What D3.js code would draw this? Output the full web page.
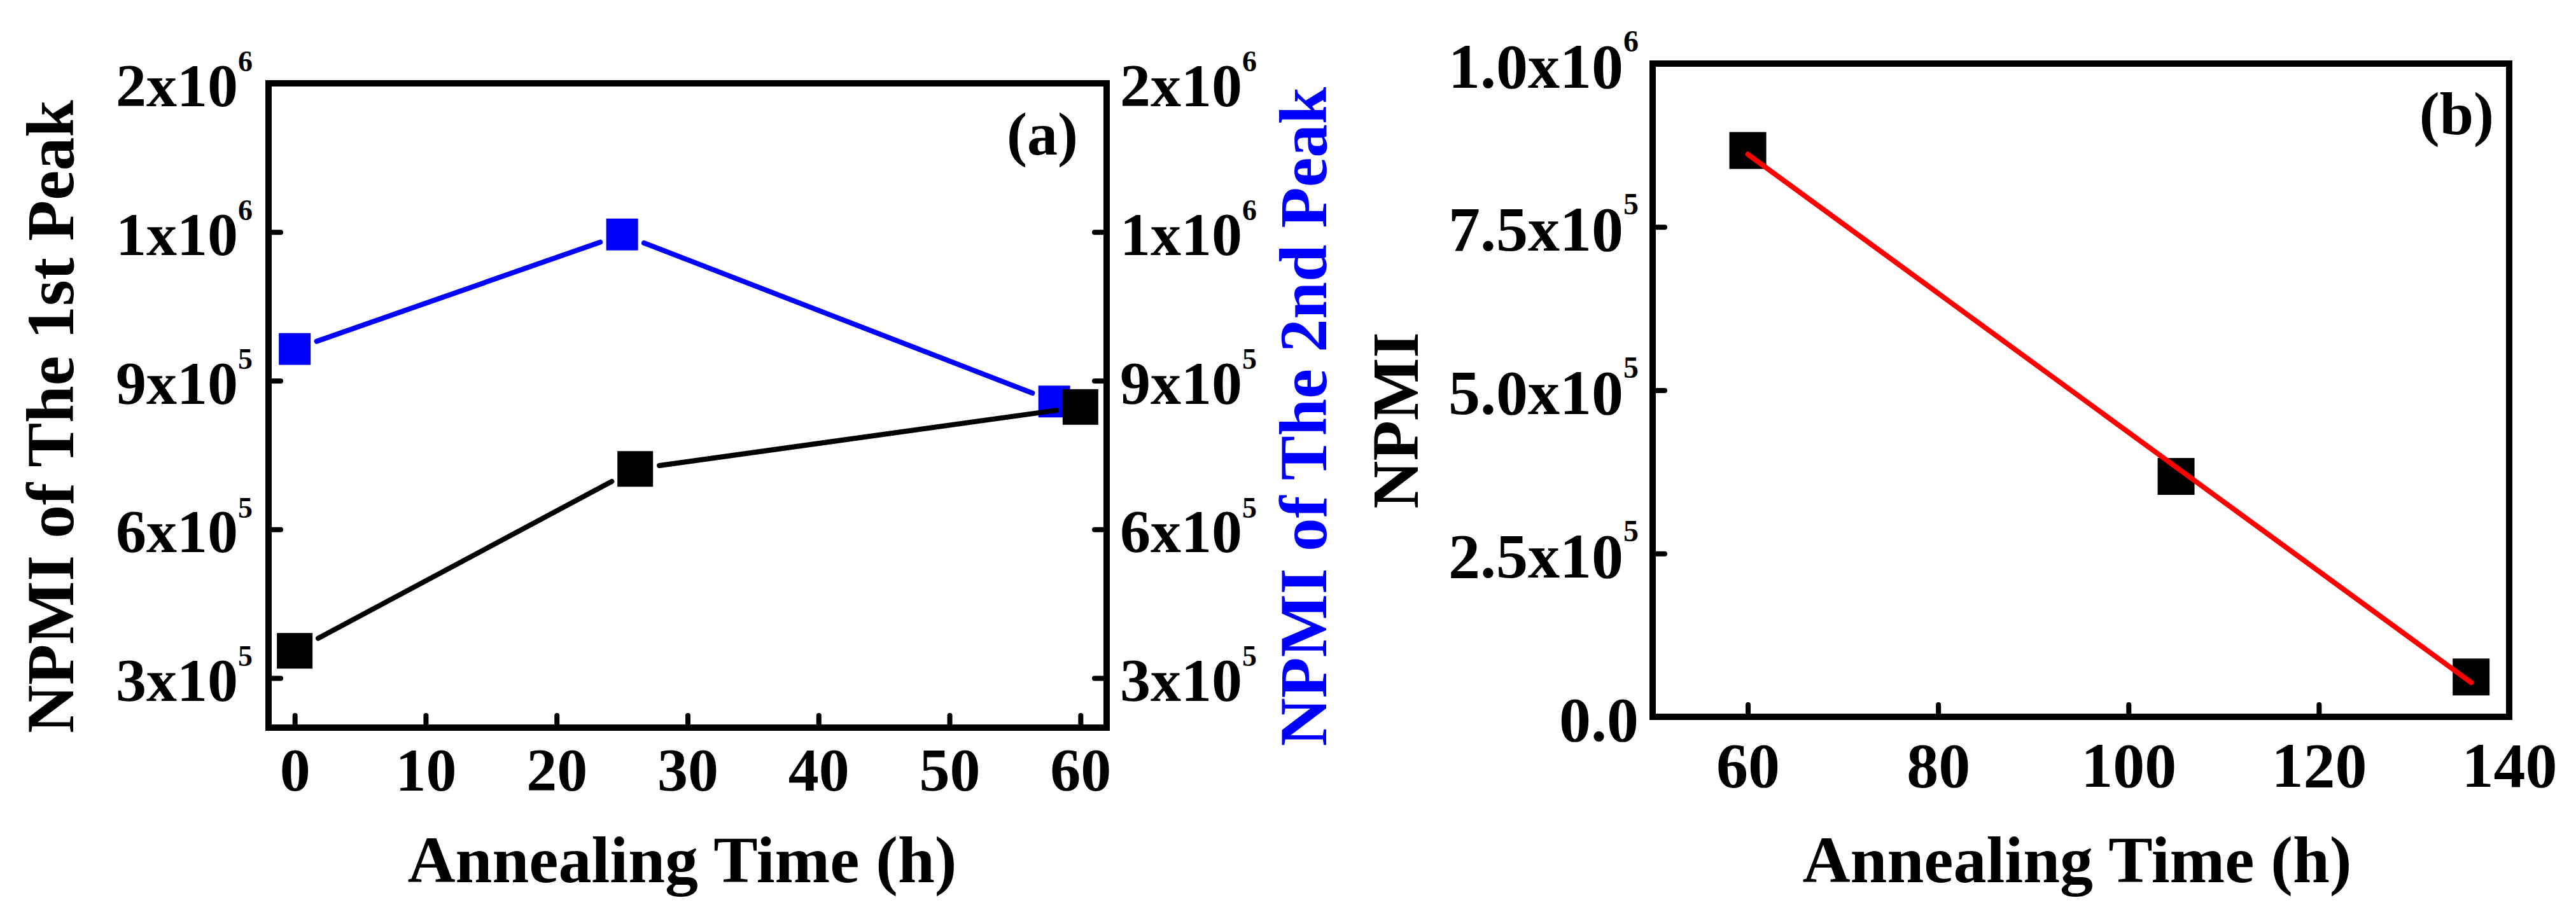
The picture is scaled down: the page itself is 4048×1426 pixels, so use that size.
<!DOCTYPE html>
<html>
<head>
<meta charset="utf-8">
<script src="https://cdn.jsdelivr.net/npm/d3@7"></script>
<style>
  html, body { margin: 0; padding: 0; background: #fff; }
  svg { display: block; }
</style>
</head>
<body>
<script>
// ---- data ----
// panel (a): NPMI of the two peaks vs annealing time
const timePeak1 = [0, 26, 60];
const npmiPeak1 = [3.55e5, 7.22e5, 8.47e5];
const timePeak2 = [0, 25, 58];
const npmiPeak2 = [9.64e5, 1.195e6, 8.58e5];

const xTicksA = [0, 10, 20, 30, 40, 50, 60];
const yTicksA = [3e5, 6e5, 9e5, 1.2e6, 1.5e6];
const yMantA = ['3', '6', '9', '1', '2'];
const yExpA = ['5', '5', '5', '6', '6'];

// panel (b): NPMI vs annealing time, with linear fit
const timeB = [60, 105, 136];
const npmiB = [8.67e5, 3.68e5, 0.61e5];

const xTicksB = [60, 80, 100, 120, 140];
const yTicksB = [0, 2.5e5, 5e5, 7.5e5, 1e6];
const yMantB = ['0.0', '2.5', '5.0', '7.5', '1.0'];
const yExpB = ['', '5', '5', '5', '6'];

const W = 4048, H = 1426;
const FONT = "'Liberation Serif', 'Times New Roman', Times, serif";

const svg = d3.select('body').append('svg')
  .attr('width', W)
  .attr('height', H)
  .style('background', '#fff');

svg.append('rect').attr('width', W).attr('height', H).attr('fill', '#fff');

// turns "3" + "5" into 3x10^5 with a raised exponent
function sciLabels(axisG, mant, exps, fs, sfs) {
  axisG.selectAll('.tick text').each(function(d, i) {
    const t = d3.select(this).text(null);
    t.append('tspan').text(mant[i] + (exps[i] ? 'x10' : ''));
    if (exps[i]) {
      t.append('tspan').attr('font-size', sfs).attr('dy', -0.57 * fs).text(exps[i]);
    }
  });
}

function styleAxis(g, fs) {
  g.attr('font-family', FONT).attr('font-size', fs).attr('font-weight', 'bold');
  g.select('.domain').remove();
  g.selectAll('.tick line').attr('stroke', '#000').attr('stroke-width', 8).attr('stroke-linecap', 'round');
  g.selectAll('.tick text').attr('fill', '#000');
}

// shortens each segment so the line stops a little before the square markers
function gappedSegments(pts, half, gap) {
  const segs = [];
  for (let i = 0; i < pts.length - 1; i++) {
    const [x1, y1] = pts[i], [x2, y2] = pts[i + 1];
    const len = Math.hypot(x2 - x1, y2 - y1);
    const ux = (x2 - x1) / len, uy = (y2 - y1) / len;
    const cut = half / Math.max(Math.abs(ux), Math.abs(uy)) + gap;
    segs.push([[x1 + ux * cut, y1 + uy * cut], [x2 - ux * cut, y2 - uy * cut]]);
  }
  return segs;
}

// ================= panel (a) =================
const A = { left: 422, right: 1739, top: 131, bottom: 1144 };
const xA = d3.scaleLinear().domain([-2, 62]).range([A.left, A.right]);
const yA = d3.scaleLinear().domain([2e5, 1.5e6]).range([A.bottom, A.top]);

const gA = svg.append('g');

const axA_b = gA.append('g')
  .attr('transform', `translate(0,${A.bottom})`)
  .call(d3.axisBottom(xA).tickValues(xTicksA).tickSize(-19).tickSizeOuter(0).tickFormat(d => d));
styleAxis(axA_b, 96);
axA_b.selectAll('.tick text').attr('y', 99).attr('dy', null);

const axA_l = gA.append('g')
  .attr('transform', `translate(${A.left},0)`)
  .call(d3.axisLeft(yA).tickValues(yTicksA).tickSize(-19).tickSizeOuter(0).tickPadding(25));
styleAxis(axA_l, 96);
axA_l.selectAll('.tick text').attr('dy', '0.37em');
sciLabels(axA_l, yMantA, yExpA, 96, 46);

const axA_r = gA.append('g')
  .attr('transform', `translate(${A.right},0)`)
  .call(d3.axisRight(yA).tickValues(yTicksA).tickSize(-19).tickSizeOuter(0).tickPadding(21));
styleAxis(axA_r, 96);
axA_r.selectAll('.tick text').attr('dy', '0.37em');
sciLabels(axA_r, yMantA, yExpA, 96, 46);

gA.append('rect')
  .attr('x', A.left).attr('y', A.top)
  .attr('width', A.right - A.left).attr('height', A.bottom - A.top)
  .attr('fill', 'none').attr('stroke', '#000').attr('stroke-width', 10);

// second peak (blue)
const ptsBlue = timePeak2.map((t, i) => [xA(t), yA(npmiPeak2[i])]);
gA.selectAll('.seg-blue')
  .data(gappedSegments(ptsBlue, 25, 10))
  .enter().append('line')
  .attr('class', 'seg-blue')
  .attr('x1', d => d[0][0]).attr('y1', d => d[0][1])
  .attr('x2', d => d[1][0]).attr('y2', d => d[1][1])
  .attr('stroke', '#0000ff').attr('stroke-width', 8).attr('stroke-linecap', 'round');
gA.selectAll('.pt-blue')
  .data(timePeak2)
  .enter().append('rect')
  .attr('class', 'pt-blue')
  .attr('x', d => xA(d) - 25)
  .attr('y', (d, i) => yA(npmiPeak2[i]) - 25)
  .attr('width', 50).attr('height', 50)
  .attr('fill', '#0000ff');

// first peak (black)
const ptsBlack = timePeak1.map((t, i) => [xA(t), yA(npmiPeak1[i])]);
gA.selectAll('.seg-black')
  .data(gappedSegments(ptsBlack, 28, 10))
  .enter().append('line')
  .attr('class', 'seg-black')
  .attr('x1', d => d[0][0]).attr('y1', d => d[0][1])
  .attr('x2', d => d[1][0]).attr('y2', d => d[1][1])
  .attr('stroke', '#000').attr('stroke-width', 8).attr('stroke-linecap', 'round');
gA.selectAll('.pt-black')
  .data(timePeak1)
  .enter().append('rect')
  .attr('class', 'pt-black')
  .attr('x', d => xA(d) - 28)
  .attr('y', (d, i) => yA(npmiPeak1[i]) - 28)
  .attr('width', 56).attr('height', 56)
  .attr('fill', '#000');

// titles
gA.append('text')
  .attr('transform', `translate(115,655) rotate(-90)`)
  .attr('text-anchor', 'middle')
  .attr('font-family', FONT).attr('font-size', 105).attr('font-weight', 'bold')
  .text('NPMI of The 1st Peak');
gA.append('text')
  .attr('transform', `translate(2084,655) rotate(-90)`)
  .attr('text-anchor', 'middle')
  .attr('font-family', FONT).attr('font-size', 105).attr('font-weight', 'bold')
  .attr('fill', '#0000ff')
  .text('NPMI of The 2nd Peak');
gA.append('text')
  .attr('x', 1072).attr('y', 1387)
  .attr('text-anchor', 'middle')
  .attr('font-family', FONT).attr('font-size', 104).attr('font-weight', 'bold')
  .text('Annealing Time (h)');
gA.append('text')
  .attr('x', 1694).attr('y', 243)
  .attr('text-anchor', 'end')
  .attr('font-family', FONT).attr('font-size', 96).attr('font-weight', 'bold')
  .text('(a)');

// ================= panel (b) =================
const B = { left: 2597, right: 3943, top: 100, bottom: 1127 };
const xB = d3.scaleLinear().domain([50, 140]).range([B.left, B.right]);
const yB = d3.scaleLinear().domain([0, 1e6]).range([B.bottom, B.top]);

const gB = svg.append('g');

const axB_b = gB.append('g')
  .attr('transform', `translate(0,${B.bottom})`)
  .call(d3.axisBottom(xB).tickValues(xTicksB).tickSize(-19).tickSizeOuter(0).tickFormat(d => d));
styleAxis(axB_b, 100);
axB_b.selectAll('.tick text').attr('y', 110).attr('dy', null);

const axB_l = gB.append('g')
  .attr('transform', `translate(${B.left},0)`)
  .call(d3.axisLeft(yB).tickValues(yTicksB).tickSize(-19).tickSizeOuter(0).tickPadding(22));
styleAxis(axB_l, 100);
axB_l.selectAll('.tick text').attr('dy', '0.37em');
sciLabels(axB_l, yMantB, yExpB, 100, 48);

gB.append('rect')
  .attr('x', B.left).attr('y', B.top)
  .attr('width', B.right - B.left).attr('height', B.bottom - B.top)
  .attr('fill', 'none').attr('stroke', '#000').attr('stroke-width', 10);

gB.selectAll('.pt-b')
  .data(timeB)
  .enter().append('rect')
  .attr('class', 'pt-b')
  .attr('x', d => xB(d) - 29)
  .attr('y', (d, i) => yB(npmiB[i]) - 29)
  .attr('width', 58).attr('height', 58)
  .attr('fill', '#000');

// least-squares line through the three points
const mx = d3.mean(timeB), my = d3.mean(npmiB);
const slope = d3.sum(timeB, (t, i) => (t - mx) * (npmiB[i] - my)) / d3.sum(timeB, t => (t - mx) * (t - mx));
const fitX = d3.extent(timeB);
gB.append('path')
  .datum(fitX.map(t => [t, my + slope * (t - mx)]))
  .attr('d', d3.line().x(d => xB(d[0])).y(d => yB(d[1])))
  .attr('fill', 'none').attr('stroke', '#ff0000').attr('stroke-width', 8).attr('stroke-linecap', 'round');

gB.append('text')
  .attr('transform', `translate(2228,661) rotate(-90)`)
  .attr('text-anchor', 'middle')
  .attr('font-family', FONT).attr('font-size', 104).attr('font-weight', 'bold')
  .text('NPMI');
gB.append('text')
  .attr('x', 3264).attr('y', 1387)
  .attr('text-anchor', 'middle')
  .attr('font-family', FONT).attr('font-size', 104).attr('font-weight', 'bold')
  .text('Annealing Time (h)');
gB.append('text')
  .attr('x', 3919).attr('y', 211)
  .attr('text-anchor', 'end')
  .attr('font-family', FONT).attr('font-size', 96).attr('font-weight', 'bold')
  .text('(b)');
</script>
</body>
</html>
